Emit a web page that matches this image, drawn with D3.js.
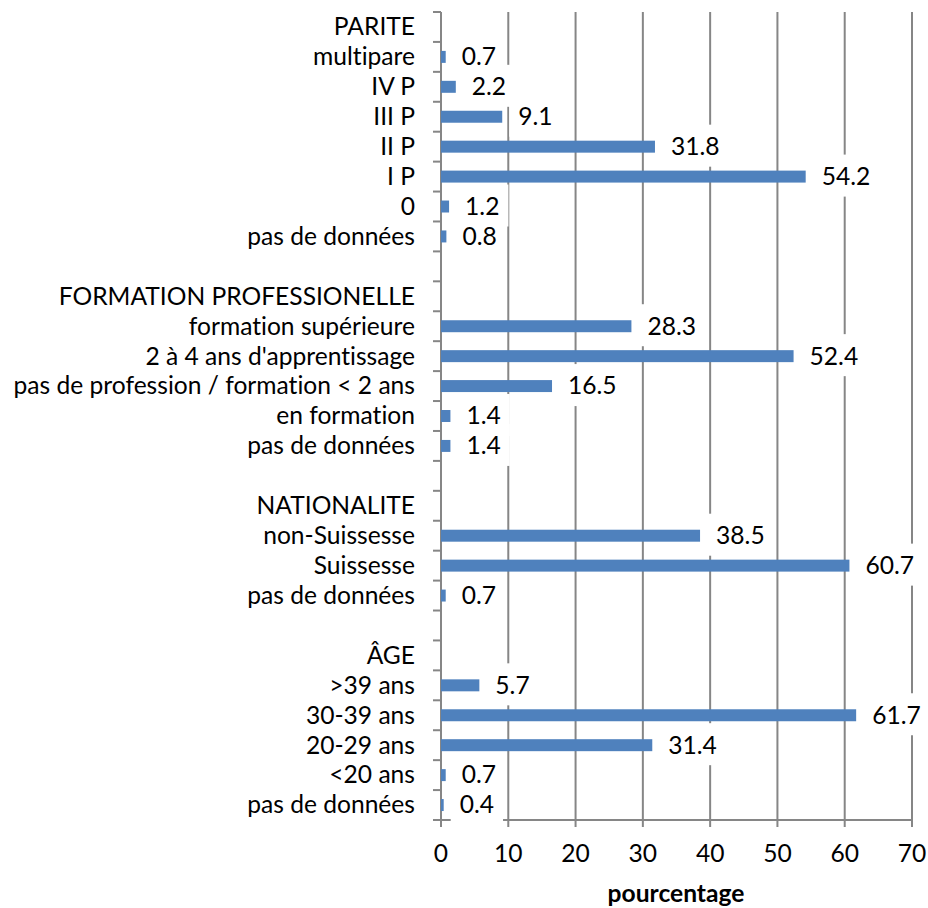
<!DOCTYPE html>
<html>
<head>
<meta charset="utf-8">
<script src="https://cdn.jsdelivr.net/npm/d3@7"></script>
<style>
  html, body { margin: 0; padding: 0; background: #fff; }
  svg { display: block; }
  text { font-family: Lato, "Open Sans", sans-serif; fill: #000; font-variant-ligatures: none; }
</style>
</head>
<body>
<svg id="chart" width="928" height="908"></svg>
<script>
// Categories from top to bottom (blank strings are spacer rows)
const categories = [
  "PARITE", "multipare", "IV P", "III P", "II P", "I P", "0", "pas de données",
  "",
  "FORMATION PROFESSIONELLE", "formation supérieure", "2 à 4 ans d'apprentissage",
  "pas de profession / formation < 2 ans", "en formation", "pas de données",
  " ",
  "NATIONALITE", "non-Suissesse", "Suissesse", "pas de données",
  "  ",
  "ÂGE", ">39 ans", "30-39 ans", "20-29 ans", "<20 ans", "pas de données"
];
// Percentages (null = no bar)
const values = [
  null, 0.7, 2.2, 9.1, 31.8, 54.2, 1.2, 0.8,
  null,
  null, 28.3, 52.4, 16.5, 1.4, 1.4,
  null,
  null, 38.5, 60.7, 0.7,
  null,
  null, 5.7, 61.7, 31.4, 0.7, 0.4
];
const xTicks = [0, 10, 20, 30, 40, 50, 60, 70];
const xTitle = "pourcentage";

const svg = d3.select("#chart");
const mLeft = 441, mRight = 912, mTop = 12, mBottom = 820;
const gridColor = "#868686", barColor = "#4F81BD";
const fs = 24.6;

const idx = d3.range(categories.length);
const x = d3.scaleLinear().domain([0, 70]).range([mLeft, mRight]);
const y = d3.scaleBand().domain(idx).range([mTop, mBottom]).paddingInner(0.6).paddingOuter(0.3);
const yOuter = d3.scaleBand().domain(idx).range([mTop, mBottom]);

// gridlines
svg.append("g").selectAll("line").data(xTicks.filter(t => t > 0)).join("line")
  .attr("x1", d => x(d)).attr("x2", d => x(d))
  .attr("y1", mTop).attr("y2", mBottom + 7)
  .attr("stroke", gridColor).attr("stroke-width", 2);

// bottom axis line
svg.append("line").attr("x1", mLeft - 8).attr("x2", mRight).attr("y1", mBottom).attr("y2", mBottom)
  .attr("stroke", gridColor).attr("stroke-width", 2);
svg.append("line").attr("x1", mLeft).attr("x2", mLeft).attr("y1", mBottom).attr("y2", mBottom + 7)
  .attr("stroke", gridColor).attr("stroke-width", 2);

// left axis line + ticks at band boundaries
svg.append("line").attr("x1", mLeft).attr("x2", mLeft).attr("y1", mTop).attr("y2", mBottom)
  .attr("stroke", gridColor).attr("stroke-width", 2);
svg.append("g").selectAll("line").data(d3.range(categories.length + 1)).join("line")
  .attr("x1", mLeft - 8).attr("x2", mLeft)
  .attr("y1", d => mTop + d * yOuter.step()).attr("y2", d => mTop + d * yOuter.step())
  .attr("stroke", gridColor).attr("stroke-width", 2);

// bars
const barData = idx.filter(i => values[i] !== null);
svg.append("g").selectAll("rect").data(barData).join("rect")
  .attr("x", x(0)).attr("y", i => y(i))
  .attr("width", i => x(values[i]) - x(0))
  .attr("height", y.bandwidth())
  .attr("fill", barColor);

// category labels
svg.append("g").selectAll("text").data(idx).join("text")
  .attr("x", mLeft - 26)
  .attr("y", i => yOuter(i) + yOuter.bandwidth() / 2)
  .attr("dy", "0.34em")
  .attr("text-anchor", "end")
  .attr("font-size", fs)
  .text(i => categories[i]);

// data labels with white background (boxes first, then texts)
const boxG = svg.append("g");
const txtG = svg.append("g");
barData.forEach(i => {
  const cy = yOuter(i) + yOuter.bandwidth() / 2;
  const bx = x(values[i]);
  const rect = boxG.append("rect").attr("fill", "#fff");
  const t = txtG.append("text")
    .attr("x", bx + 16).attr("y", cy).attr("dy", "0.34em")
    .attr("font-size", fs)
    .text(values[i].toFixed(1));
  const bb = t.node().getBBox();
  rect.attr("x", bx + 7).attr("y", cy - 22)
    .attr("width", bb.x + bb.width + 9 - (bx + 7)).attr("height", 42);
});

// x tick labels
svg.append("g").selectAll("text").data(xTicks).join("text")
  .attr("x", d => x(d)).attr("y", 862)
  .attr("text-anchor", "middle").attr("font-size", fs)
  .text(d => d);

// x title
svg.append("text").attr("x", 676).attr("y", 902)
  .attr("text-anchor", "middle").attr("font-size", fs).attr("font-weight", "bold")
  .text(xTitle);
</script>
</body>
</html>
